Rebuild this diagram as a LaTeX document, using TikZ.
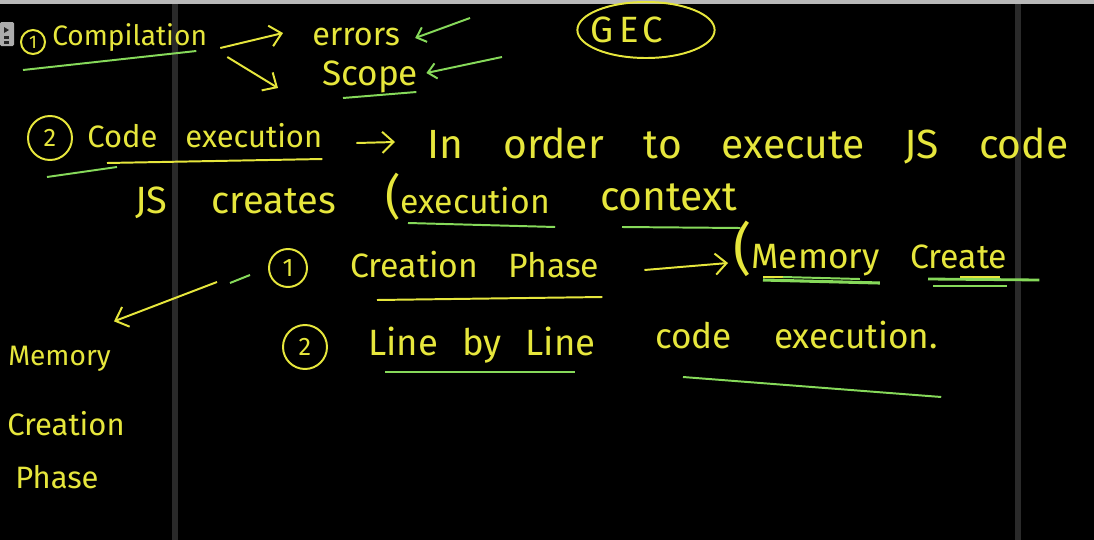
\documentclass[tikz,border=0pt]{standalone}
\usepackage{fontspec}
\setmainfont{Fira Sans}
\usetikzlibrary{arrows,arrows.meta,shapes.geometric,positioning,calc}
\definecolor{yellowpen}{HTML}{E6E63C}
\definecolor{greenpen}{HTML}{86D95A}
\definecolor{bar}{HTML}{2A2A2A}

\begin{document}
\begin{tikzpicture}[x=0.025cm,y=-0.025cm]

\tikzset{txt/.style = {anchor=base west, text=yellowpen, inner sep=0pt, font=\fontsize{#1}{#1}\selectfont}, txt/.default=24}
\tikzset{gap/.style = {execute at begin node={\spaceskip=#1\relax}}}
\tikzset{num/.style = {shape=circle, draw=yellowpen, line width=1.4pt, text=yellowpen, inner sep=0pt, font=\fontsize{18}{18}\selectfont}}
\tikzset{edge1/.style = {-{Straight Barb[length=8pt,width=15pt]}, yellowpen, line width=1.4pt}}
\tikzset{edge2/.style = {-{Straight Barb[length=6pt,width=11pt]}, greenpen, line width=1.4pt}}
\tikzset{uline/.style = {greenpen, line width=1.4pt}}
\tikzset{yline/.style = {yellowpen, line width=1.4pt}}

% board
\fill[black] (0,0) rectangle (1094,540);
\useasboundingbox (0,0) rectangle (1094,540);
\fill[gray!55] (0,0) rectangle (1094,4);
\fill[bar] (172,4) rectangle (178,540);
\fill[bar] (1015,4) rectangle (1021,540);
\fill[gray!65, rounded corners=1pt] (0,22) rectangle (14,46);
\fill[gray!30!black] (4,27) -- (9,30) -- (4,33) -- cycle;
\fill[gray!30!black] (4,36) rectangle (9,39);
\fill[gray!30!black] (4,41) rectangle (9,44);

% compilation
\node[num, minimum size=0.6cm, font=\fontsize{13}{13}\selectfont] (n1) at (33,42) {1};
\node[txt=20] (comp) at (52,45) {Compilation};
\node[txt=23] (errors) at (312,45) {errors};
\node[txt=25] (scope) at (322,85) {Scope};
\node[shape=ellipse, draw=yellowpen, line width=1.4pt, text=yellowpen, inner sep=0pt,
      minimum width=3.43cm, minimum height=1.4cm,
      font=\fontsize{26}{26}\selectfont] (gec) at (646,30) {\hspace*{-0.95cm}G\hspace{4pt}E\hspace{3pt}C};
\coordinate (t1) at (470,18);
\coordinate (t2) at (502,57);

% code execution
\node[num, minimum size=1.1cm] (n2) at (50,138) {2};
\node[txt=22, gap=0.7cm] (codeex) at (87,147) {Code execution};
\node[txt=29, gap=1cm] (order) at (427,158) {In order to execute JS code};
\node[txt=27, gap=1.1cm] (jscr) at (135,213) {JS creates};
\node[txt] (exec) at (385,213) {{\fontsize{34}{34}\selectfont(}execution};
\node[txt=29] (ctx) at (600,210) {context};

% phases
\node[num, minimum size=0.95cm] (n3) at (288,268) {1};
\node[txt, gap=0.75cm] (phase) at (350,277) {Creation Phase};
\node[txt=25] (mem) at (733,268) {{\fontsize{40}{40}\selectfont(}Memory};
\node[txt] (create) at (910,268) {Create};
\node[num, minimum size=1.1cm] (n4) at (305,347) {2};
\node[txt=26, gap=0.6cm] (lbl) at (368,355) {Line by Line};
\node[txt=25, gap=1.05cm] (codeex2) at (655,348) {code execution.};
\coordinate (a0) at (217,282);
\node[txt=20] (lmem) at (8,365) {Memory};
\node[txt=22] (lcre) at (7,435) {Creation};
\node[txt=22] (lpha) at (15,488) {Phase};

%edges
\draw[edge1] ([shift={(13,3)}]comp.base east) to ([shift={(-29,-12)}]errors.base west);
\draw[edge1] ([shift={(20,12)}]comp.base east) to ([shift={(-44,3)}]scope.base west);
\draw[edge2] (t1) to ([shift={(15,-7)}]errors.base east);
\draw[edge2] (t2) to ([shift={(8,-12)}]scope.base east);
\draw[edge1] ([shift={(34,-4)}]codeex.base east) to ([shift={(-32,-16)}]order.base west);
\draw[edge1] ([shift={(45,-7)}]phase.base east) to ([shift={(-5,-5)}]mem.base west);
\draw[edge1] (a0) to ([shift={(3,-24)}]lmem.north east);
\draw[uline] ($(a0)+(13,1)$) -- ($(a0)+(33,-7)$);

% underlines
\draw[uline] ([shift={(-29,25)}]comp.base west) -- ([shift={(-11,6)}]comp.base east);
\draw[uline] ([shift={(21,13)}]scope.base west) -- ([shift={(-2,7)}]scope.base east);
\draw[yline] ([shift={(20,16)}]codeex.base west) -- ([shift={(0,12)}]codeex.base east);
\draw[uline] ([shift={(-40,30)}]codeex.base west) -- ([shift={(30,20)}]codeex.base west);
\draw[uline] ([shift={(23,10)}]exec.base west) -- ([shift={(5,14)}]exec.base east);
\draw[uline] ([shift={(22,17)}]ctx.base west) -- ([shift={(3,18)}]ctx.base east);
\draw[yline] ([shift={(27,23)}]phase.base west) -- ([shift={(3,20)}]phase.base east);
\draw[yline] ([shift={(30,9)}]mem.base west) -- ([shift={(50,9)}]mem.base west);
\draw[uline, line width=2.2pt] ([shift={(30,12)}]mem.base west) -- ([shift={(0,15)}]mem.base east);
\draw[uline] ([shift={(50,9)}]mem.base west) -- ([shift={(-20,11)}]mem.base east);
\draw[yline] ([shift={(50,9)}]create.base west) -- ([shift={(90,9)}]create.base west);
\draw[uline, line width=2pt] ([shift={(18,11)}]create.base west) -- ([shift={(32,12)}]create.base east);
\draw[uline] ([shift={(23,18)}]create.base west) -- ([shift={(0,18)}]create.base east);
\draw[uline] ([shift={(17,17)}]lbl.base west) -- ([shift={(-21,17)}]lbl.base east);
\draw[uline] ([shift={(28,29)}]codeex2.base west) -- ([shift={(3,49)}]codeex2.base east);

\end{tikzpicture}
\end{document}
